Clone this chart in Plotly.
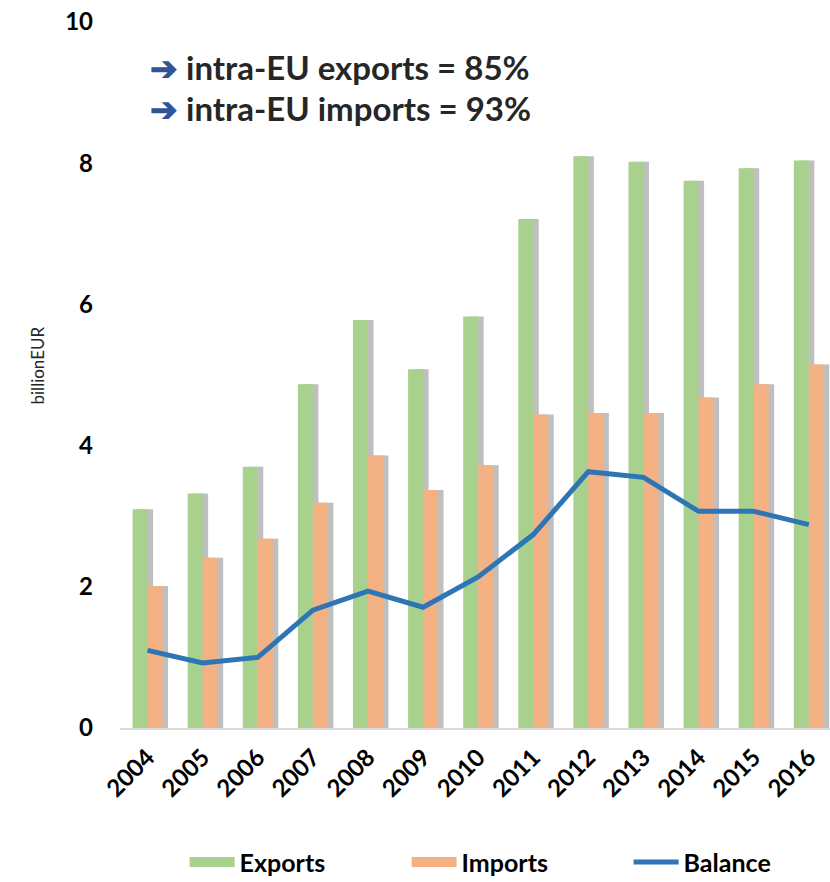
import plotly.graph_objects as go

years = ["2004", "2005", "2006", "2007", "2008", "2009", "2010",
         "2011", "2012", "2013", "2014", "2015", "2016"]
exports = [3.10, 3.32, 3.70, 4.87, 5.78, 5.08, 5.83, 7.21, 8.10, 8.02, 7.75, 7.93, 8.04]
imports = [2.01, 2.41, 2.68, 3.19, 3.86, 3.37, 3.72, 4.44, 4.46, 4.46, 4.68, 4.87, 5.15]
balance = [1.10, 0.92, 1.00, 1.67, 1.94, 1.71, 2.14, 2.74, 3.63, 3.55, 3.07, 3.07, 2.88]
yticks = [0, 2, 4, 6, 8, 10]

GREEN = "#A9D18E"
ORANGE = "#F4B183"
BLUE = "#2E75B6"
SHADOW = "rgba(0,0,0,0.25)"
FONT = "Lato"
BW = 0.272

fig = go.Figure()
fig.add_trace(go.Bar(x=years, y=exports, marker=dict(color=SHADOW, line=dict(width=0)),
                     offset=-BW + 0.1, width=BW, showlegend=False, hoverinfo="skip"))
fig.add_trace(go.Bar(x=years, y=exports, name="Exports", marker=dict(color=GREEN, line=dict(width=0)),
                     offset=-BW, width=BW, showlegend=False))
fig.add_trace(go.Bar(x=years, y=imports, marker=dict(color=SHADOW, line=dict(width=0)),
                     offset=0.1, width=BW, showlegend=False, hoverinfo="skip"))
fig.add_trace(go.Bar(x=years, y=imports, name="Imports", marker=dict(color=ORANGE, line=dict(width=0)),
                     offset=0, width=BW, showlegend=False))
fig.add_trace(go.Scatter(x=years, y=balance, name="Balance", mode="lines",
                         line=dict(color=BLUE, width=5), showlegend=False))

# legend keys (wide rectangles like the original)
fig.add_trace(go.Scatter(x=[None], y=[None], name="Exports", mode="lines",
                         line=dict(color=GREEN, width=17)))
fig.add_trace(go.Scatter(x=[None], y=[None], name="Imports", mode="lines",
                         line=dict(color=ORANGE, width=17)))
fig.add_trace(go.Scatter(x=[None], y=[None], name="Balance", mode="lines",
                         line=dict(color=BLUE, width=5)))

fig.update_layout(
    width=830, height=882,
    margin=dict(l=120, r=0, t=22, b=154, autoexpand=False),
    paper_bgcolor="white", plot_bgcolor="white",
    barmode="overlay",
    font=dict(family=FONT, color="#000000"),
    showlegend=True,
    legend=dict(orientation="h", x=0.091, xanchor="left", y=-0.19, yanchor="middle",
                font=dict(family=FONT, size=25, color="#000000", weight="bold"),
                entrywidth=162, entrywidthmode="pixels", itemwidth=45,
                traceorder="normal"),
    xaxis=dict(type="category", range=[-0.5, 12.385], tickangle=-45, automargin=False,
               tickfont=dict(family=FONT, size=24, color="#000000", weight="bold"),
               showgrid=False, showline=True, linecolor="#D9D9D9", linewidth=1.5,
               ticks="", zeroline=False, ticklabelstandoff=4),
    yaxis=dict(range=[0, 10], tickvals=yticks, ticktext=[str(v) for v in yticks], automargin=False,
               tickfont=dict(family=FONT, size=24, color="#000000", weight="bold"),
               showgrid=False, showline=False, zeroline=False, ticks="",
               ticklabelstandoff=26),
)

fig.add_annotation(xref="paper", yref="paper", x=-0.134, y=0.514, text="billionEUR",
                   textangle=-90, showarrow=False,
                   font=dict(family=FONT, size=17, color="#262626"))

arrow = "<span style='color:#2F5597'>➔</span> "
fig.add_annotation(xref="paper", yref="paper", x=0.039, y=0.936, xanchor="left", yanchor="middle",
                   text=arrow + "intra-EU exports = 85%", showarrow=False,
                   font=dict(family=FONT, size=33, color="#262626", weight="bold"))
fig.add_annotation(xref="paper", yref="paper", x=0.039, y=0.878, xanchor="left", yanchor="middle",
                   text=arrow + "intra-EU imports = 93%", showarrow=False,
                   font=dict(family=FONT, size=33, color="#262626", weight="bold"))

fig.write_html("out.html", config={"displayModeBar": False},
               post_script="document.body.style.margin='0px';document.body.style.overflow='hidden';")
